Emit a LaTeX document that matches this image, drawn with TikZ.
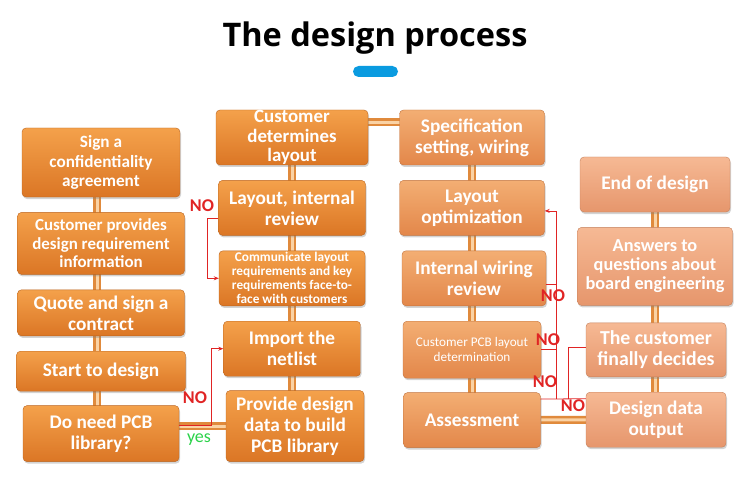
\documentclass[tikz,border=0pt]{standalone}
\usepackage{fontspec}
\setmainfont{Carlito}
\newfontfamily\titlefont{Open Sans}
\usetikzlibrary{positioning,shadows,backgrounds,arrows.meta}

\definecolor{orTop}{HTML}{F4A14B}
\definecolor{orBot}{HTML}{DB7625}
\definecolor{peTop}{HTML}{F3AE73}
\definecolor{peBot}{HTML}{E3874A}
\definecolor{liTop}{HTML}{F6B994}
\definecolor{liBot}{HTML}{E6966C}
\definecolor{beamDark}{HTML}{E08A3C}
\definecolor{beamLight}{HTML}{FAD2A4}
\definecolor{noRed}{HTML}{E02424}
\definecolor{yesGreen}{HTML}{2BD24A}
\definecolor{pillBlue}{HTML}{0A9BE0}

\tikzset{
  box/.style={rounded corners=4pt, top color=orTop, bottom color=orBot,
    draw=orBot!85!black, line width=0.4pt,
    drop shadow={opacity=0.35, shadow xshift=1pt, shadow yshift=-2pt},
    text=white, align=center, inner sep=1pt,
    font=\bfseries\fontsize{19.3}{21}\selectfont},
  peach/.style={box, top color=peTop, bottom color=peBot, draw=peBot!85!black},
  light/.style={box, top color=liTop, bottom color=liBot, draw=liBot!85!black},
  beam/.style={draw=beamDark, line width=2.5pt, double=beamLight, double distance=3pt},
  noline/.style={draw=noRed, line width=0.8pt},
  noarrow/.style={noline, -{Stealth[length=5pt,width=4pt]}},
  nolabel/.style={text=noRed, font=\bfseries\fontsize{18}{18}\selectfont, inner sep=0pt},
  yeslabel/.style={text=yesGreen, font=\fontsize{18}{18}\selectfont, inner sep=0pt},
  node distance=15pt
}

\begin{document}
\begin{tikzpicture}[x=1pt,y=1pt]
\useasboundingbox (0,0) rectangle (750,-500);

% title
\node[font=\titlefont\bfseries\fontsize{32.5}{38}\selectfont] (title) at (375,-38) {The design process};
\fill[pillBlue, rounded corners=5.5pt] (353,-66) rectangle (398,-77);

% first column
\node[box, minimum width=158, minimum height=69, font=\bfseries\fontsize{17.2}{19.5}\selectfont] (sign) at (101,-162.5) {Sign a\\confidentiality\\agreement};
\node[box, minimum width=167, minimum height=62, below=of sign, font=\bfseries\fontsize{16.9}{18.5}\selectfont] (require) {Customer provides\\design requirement\\information};
\node[box, minimum width=167, minimum height=46, below=of require] (quote) {Quote and sign a\\contract};
\node[box, minimum width=169, minimum height=40, below=of quote] (start) {Start to design};
\node[box, minimum width=156, minimum height=56, below=14pt of start] (needlib) {Do need PCB\\library?};

% second column
\node[box, minimum width=152, minimum height=55, inner sep=0pt, font=\bfseries\fontsize{18.9}{19.5}\selectfont] (custlay) at (292,-137.5) {Customer\\determines\\layout};
\node[box, minimum width=147, minimum height=55, below=of custlay] (review) {Layout, internal\\review};
\node[box, minimum width=146, minimum height=55, below=of review, font=\bfseries\fontsize{13.3}{14}\selectfont] (talk) {Communicate layout\\requirements and key\\requirements face-to-\\face with customers};
\node[box, minimum width=137, minimum height=55, below=of talk] (netlist) {Import the\\netlist};
\node[box, minimum width=138, minimum height=71, below=14pt of netlist, xshift=3pt] (buildlib) {Provide design\\data to build\\PCB library};

% third column
\node[peach, minimum width=145, minimum height=55] (spec) at (472,-137.5) {Specification\\setting, wiring};
\node[peach, minimum width=145, minimum height=55, below=of spec] (optim) {Layout\\optimization};
\node[peach, minimum width=144, minimum height=55, below=of optim, xshift=2pt] (wiring) {Internal wiring\\review};
\node[peach, minimum width=138, minimum height=57, below=of wiring, xshift=-2pt, font=\fontsize{13.2}{15}\selectfont] (custpcb) {Customer PCB layout\\determination};
\node[peach, minimum width=137, minimum height=55, below=14pt of custpcb] (assess) {Assessment};

% fourth column
\node[light, minimum width=150, minimum height=55] (enddes) at (655,-184.5) {End of design};
\node[light, minimum width=155, minimum height=78, below=of enddes, font=\bfseries\fontsize{18.3}{18.8}\selectfont] (answers) {Answers to\\questions about\\board engineering};
\node[light, minimum width=140, minimum height=54, below=17pt of answers, xshift=1pt, font=\bfseries\fontsize{19.8}{21.5}\selectfont] (decide) {The customer\\finally decides};
\node[light, minimum width=140, minimum height=55, below=of decide] (output) {Design data\\output};

% beams
\begin{scope}[on background layer]
  \draw[beam] ([xshift=-4pt]sign.center) -- ([xshift=-4pt]sign.center |- needlib.center);
  \draw[beam] (custlay) -- (custlay |- buildlib);
  \draw[beam] (spec) -- (spec |- assess);
  \draw[beam] (enddes) -- (enddes |- output);
  \draw[beam] ([yshift=15pt]custlay.center) -- ([yshift=15pt]spec.center);
  \draw[beam] (buildlib.center -| needlib.center) -- (buildlib.center);
  \draw[beam] (assess) -- (output);
\end{scope}

% NO branches
\draw[noarrow] ([yshift=8pt]needlib.east) -- ++(32,0) |- (netlist.west);
\node[nolabel] (no1) at (195,-398) {NO};
\node[yeslabel] (yes1) at (199,-440) {yes};

\draw[noarrow] ([yshift=-10pt]review.west) -- ++(-11,0) |- (talk.west);
\node[nolabel] (no2) at (202,-206) {NO};

\coordinate (joinA) at ([xshift=16pt,yshift=21pt]assess.east);
\coordinate (joinB) at ([xshift=28pt,yshift=21pt]assess.east);
\draw[noarrow] (joinA) |- ([yshift=-3pt]optim.east);
\draw[noline] ([yshift=-6pt]wiring.east) -- ([yshift=-6pt]wiring.east -| joinA);
\draw[noline] (custpcb.east) -- (custpcb.east -| joinA);
\draw[noline] ([yshift=21pt]assess.east) -- ([yshift=21pt]output.west);
\draw[noline] (joinB) |- ([yshift=2pt]decide.west);
\node[nolabel] (no3) at (553,-296) {NO};
\node[nolabel] (no4) at (548,-340) {NO};
\node[nolabel] (no5) at (545,-382) {NO};
\node[nolabel] (no6) at (573,-406) {NO};
\end{tikzpicture}
\end{document}
